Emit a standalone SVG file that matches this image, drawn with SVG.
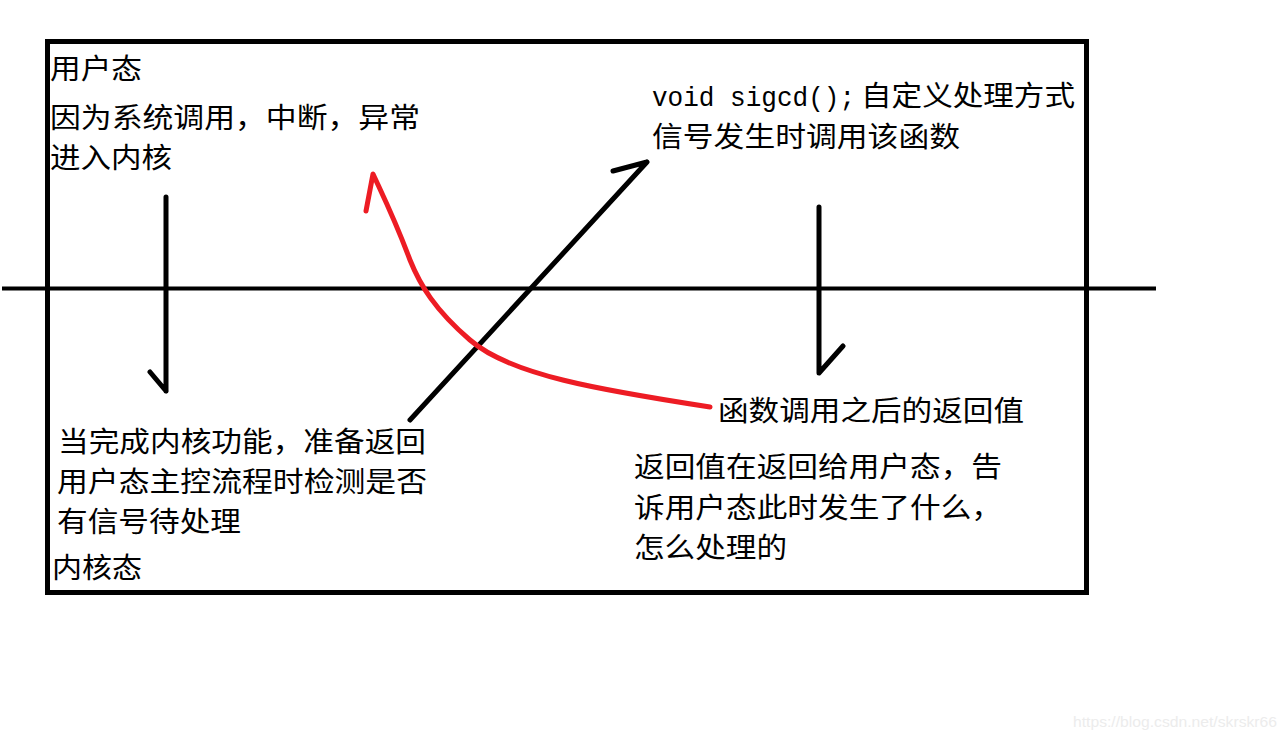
<svg xmlns="http://www.w3.org/2000/svg" width="1287" height="738" viewBox="0 0 1287 738">
<style>
.t{font-family:"Liberation Serif","Noto Sans CJK SC",serif;font-size:28px;fill:#000}
.m{font-family:"Liberation Mono","Noto Sans CJK SC",monospace;font-size:28px;fill:#000}
.k{fill:none;stroke:#000;stroke-width:5;stroke-linecap:round;stroke-linejoin:round}
.r{fill:none;stroke:#ED1C24;stroke-width:5;stroke-linecap:round;stroke-linejoin:round}
.w{font-family:"Liberation Sans",Arial,sans-serif;font-size:15px;fill:#ececec}
</style>
<rect width="1287" height="738" fill="#fff"/>
<g id="frame">
<rect x="47.5" y="41.5" width="1039" height="551" fill="none" stroke="#000" stroke-width="5"/>
<line x1="2" y1="288.5" x2="1156" y2="288.5" stroke="#000" stroke-width="4"/>
</g>
<g id="connectors">
<path class="k" d="M166,197 L166,391 M150,372 L166,391"/>
<path class="k" d="M410,420 L647,162 M613,171 L647,162"/>
<path class="k" d="M819,207 L819,373 L843,346"/>
<path class="r" d="M710,407 C600,390 510,375 470,340 C435,310 420,285 410,260 C395,220 385,200 373,174 L366,211"/>
</g>
<g id="user-mode">
<text class="t" x="50" y="79" textLength="92" lengthAdjust="spacingAndGlyphs">用户态</text>
<text class="t" x="50" y="128" textLength="370" lengthAdjust="spacingAndGlyphs">因为系统调用，中断，异常</text>
<text class="t" x="50" y="168" textLength="122" lengthAdjust="spacingAndGlyphs">进入内核</text>
</g>
<g id="handler">
<text class="m" x="652" y="106" textLength="203" lengthAdjust="spacingAndGlyphs">void sigcd();</text>
<text class="t" x="861" y="106" textLength="214" lengthAdjust="spacingAndGlyphs">自定义处理方式</text>
<text class="t" x="652" y="147" textLength="308" lengthAdjust="spacingAndGlyphs">信号发生时调用该函数</text>
</g>
<g id="kernel-mode">
<text class="t" x="58" y="452" textLength="368" lengthAdjust="spacingAndGlyphs">当完成内核功能，准备返回</text>
<text class="t" x="57" y="492" textLength="370" lengthAdjust="spacingAndGlyphs">用户态主控流程时检测是否</text>
<text class="t" x="57" y="532" textLength="184" lengthAdjust="spacingAndGlyphs">有信号待处理</text>
<text class="t" x="52" y="578" textLength="90" lengthAdjust="spacingAndGlyphs">内核态</text>
</g>
<g id="return-value">
<text class="t" x="718" y="421" textLength="306" lengthAdjust="spacingAndGlyphs">函数调用之后的返回值</text>
</g>
<g id="return-note">
<text class="t" x="634" y="477" textLength="368" lengthAdjust="spacingAndGlyphs">返回值在返回给用户态，告</text>
<text class="t" x="634" y="518" textLength="368" lengthAdjust="spacingAndGlyphs">诉用户态此时发生了什么，</text>
<text class="t" x="634" y="558" textLength="153" lengthAdjust="spacingAndGlyphs">怎么处理的</text>
</g>
<text class="w" x="1073" y="727" textLength="204" lengthAdjust="spacingAndGlyphs">https://blog.csdn.net/skrskr66</text>
</svg>
